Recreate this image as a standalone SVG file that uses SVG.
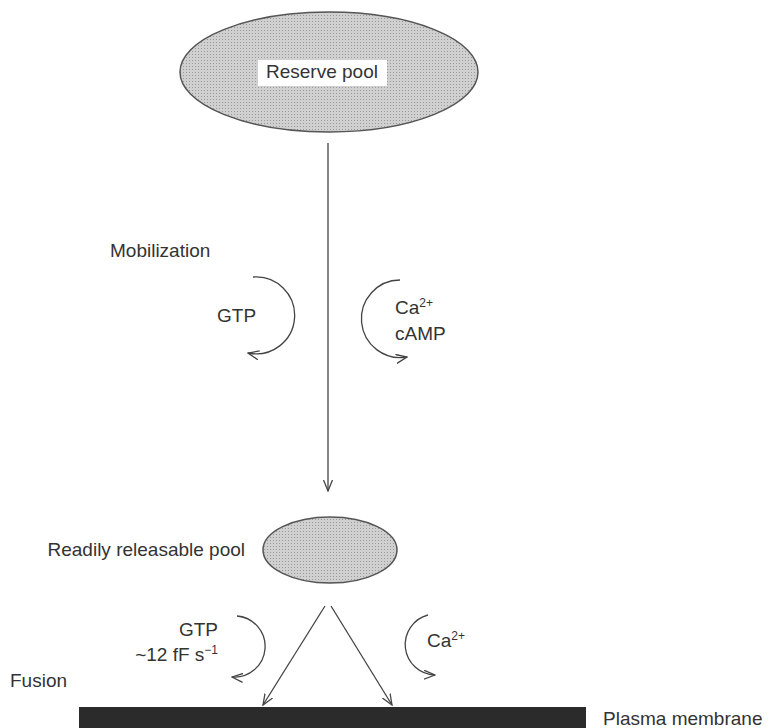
<svg xmlns="http://www.w3.org/2000/svg" width="769" height="728" viewBox="0 0 769 728">
<defs>
<marker id="arr" viewBox="0 0 12 10" refX="11" refY="5" markerWidth="12" markerHeight="10" markerUnits="userSpaceOnUse" orient="auto">
<path d="M0,0.5 L11,5 L0,9.5" fill="none" stroke="#444" stroke-width="1.3"/>
</marker>
<pattern id="dots" width="3" height="3" patternUnits="userSpaceOnUse">
<rect width="3" height="3" fill="#d0d0d0"/>
<rect width="1" height="1" fill="#999"/>
</pattern>
</defs>
<style>
text{font-family:"Liberation Sans",Arial,sans-serif;font-size:19px;fill:#333}
.sup{font-size:12px}
.pool{fill:url(#dots);stroke:#555;stroke-width:1.5}
.line{fill:none;stroke:#444;stroke-width:1.3}
</style>
<rect width="769" height="728" fill="#fff"/>
<g id="reserve-pool">
<ellipse class="pool" cx="329" cy="72" rx="149" ry="60"/>
<rect x="258" y="60" width="129" height="26" fill="#fff"/>
<text x="322" y="78" text-anchor="middle">Reserve pool</text>
</g>
<g id="readily-releasable-pool">
<ellipse class="pool" cx="330" cy="550" rx="67" ry="33"/>
<text x="245" y="556" text-anchor="end">Readily releasable pool</text>
</g>
<g id="plasma-membrane">
<rect x="79" y="707" width="507" height="21" fill="#2b2b2b"/>
<text x="603" y="725">Plasma membrane</text>
</g>
<g id="labels">
<text x="110" y="257">Mobilization</text>
<text x="217" y="322">GTP</text>
<text x="395" y="314">Ca<tspan class="sup" dy="-7">2+</tspan></text>
<text x="395" y="340">cAMP</text>
<text x="218" y="636" text-anchor="end">GTP</text>
<text x="218" y="661" text-anchor="end">~12 fF s<tspan class="sup" dy="-7">−1</tspan></text>
<text x="427" y="647">Ca<tspan class="sup" dy="-7">2+</tspan></text>
<text x="10" y="687">Fusion</text>
</g>
<g id="connectors">
<line class="line" x1="328" y1="143" x2="328" y2="491" marker-end="url(#arr)"/>
<path class="line" d="M253,277 A38.5,38.5 0 1 1 248,353" marker-end="url(#arr)"/>
<path class="line" d="M400,280 A38.8,38.8 0 1 0 407,357" marker-end="url(#arr)"/>
<line class="line" x1="325" y1="606" x2="263" y2="705" marker-end="url(#arr)"/>
<line class="line" x1="331" y1="606" x2="392" y2="705" marker-end="url(#arr)"/>
<path class="line" d="M237,616 A30.5,30.5 0 0 1 232,677" marker-end="url(#arr)"/>
<path class="line" d="M428,615 A30.5,30.5 0 0 0 435,675" marker-end="url(#arr)"/>
</g>
</svg>
